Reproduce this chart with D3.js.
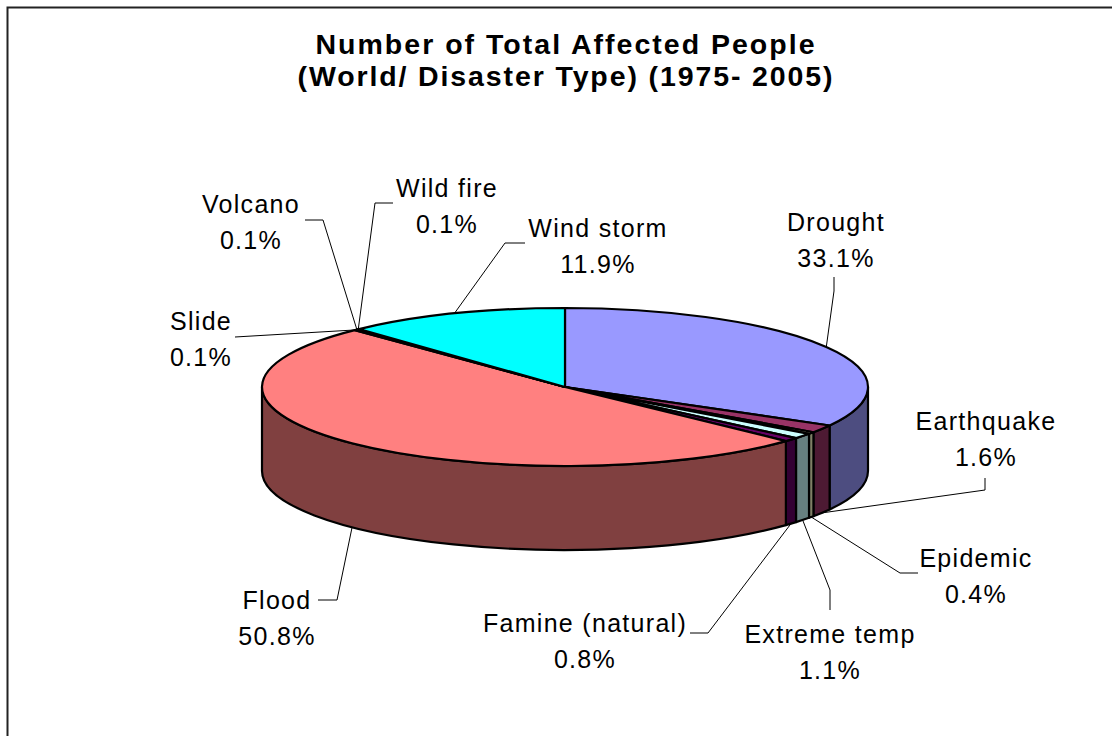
<!DOCTYPE html>
<html>
<head>
<meta charset="utf-8">
<script src="https://cdn.jsdelivr.net/npm/d3@7/dist/d3.min.js"></script>
<style>
  html, body { margin: 0; padding: 0; background: #fff; }
  svg { display: block; }
</style>
</head>
<body>
<svg id="chart" width="1112" height="736"></svg>
<script>
// Share of total affected people by disaster type, 1975-2005 (%)
const categories = ["Drought", "Earthquake", "Epidemic", "Extreme temp", "Famine (natural)",
                    "Flood", "Slide", "Volcano", "Wild fire", "Wind storm"];
const shares = [33.1, 1.6, 0.4, 1.1, 0.8, 50.8, 0.1, 0.1, 0.1, 11.9];
const sliceColors = ["#9999FF", "#993366", "#FFFFCC", "#CCFFFF", "#660066",
                     "#FF8080", "#0066CC", "#CCCCFF", "#000080", "#00FFFF"];
const titleLines = ["Number of Total Affected People", "(World/ Disaster Type) (1975- 2005)"];

// Label placement: anchor of first text line, plus leader-line bend points
const labelLayout = [
  { x: 836, y: 231, leader: [[834, 291], [834, 277]] },
  { x: 986, y: 430, leader: [[985, 490], [985, 478]] },
  { x: 976, y: 567, leader: [[900, 573], [918, 573]] },
  { x: 830, y: 643, leader: [[830, 590], [830, 610]] },
  { x: 585, y: 632, leader: [[708, 633], [690, 633]] },
  { x: 277, y: 609, leader: [[337, 600], [318, 600]] },
  { x: 201, y: 330, leader: [[235, 337]] },
  { x: 251, y: 213, leader: [[323, 220], [305, 220]] },
  { x: 447, y: 197, leader: [[375, 203], [393, 203]] },
  { x: 598, y: 237, leader: [[505, 243], [525, 243]] }
];

const svg = d3.select("#chart");

// Outer frame
svg.append("rect")
  .attr("x", 7.5).attr("y", 7.5)
  .attr("width", 1300).attr("height", 900)
  .attr("fill", "#fff").attr("stroke", "#222").attr("stroke-width", 2);

// Title
svg.append("g").selectAll("text")
  .data(titleLines)
  .join("text")
  .attr("x", 565)
  .attr("y", (d, i) => 54 + i * 32)
  .attr("text-anchor", "middle")
  .attr("font-family", "'Liberation Sans', Arial, sans-serif")
  .attr("font-weight", "bold")
  .attr("font-size", 28.5)
  .attr("textLength", (d, i) => i === 0 ? 499 : 535)
  .attr("lengthAdjust", "spacing")
  .attr("fill", "#000")
  .text(d => d);

// 3D pie geometry
const cx = 565, cy = 387, rx = 303, ry = 79, depth = 84;
const px = a => cx + rx * Math.sin(a);
const py = a => cy - ry * Math.cos(a);

const arcs = d3.pie().sort(null).startAngle(0).endAngle(2 * Math.PI)(shares)
  .map((a, i) => ({ ...a, i }));

const halfTone = c => { const r = d3.rgb(c); return d3.rgb(r.r / 2, r.g / 2, r.b / 2).formatHex(); };

const topPath = a => {
  const large = (a.endAngle - a.startAngle) > Math.PI ? 1 : 0;
  return `M${cx},${cy} L${px(a.startAngle)},${py(a.startAngle)} ` +
         `A${rx},${ry} 0 ${large} 1 ${px(a.endAngle)},${py(a.endAngle)} Z`;
};

const sidePath = (s, e) => {
  const large = (e - s) > Math.PI ? 1 : 0;
  return `M${px(s)},${py(s)} A${rx},${ry} 0 ${large} 1 ${px(e)},${py(e)} ` +
         `L${px(e)},${py(e) + depth} A${rx},${ry} 0 ${large} 0 ${px(s)},${py(s) + depth} Z`;
};

// Outer walls on the front half of the pie
const front = arcs
  .map(a => ({ a, s: Math.max(a.startAngle, Math.PI / 2), e: Math.min(a.endAngle, 3 * Math.PI / 2) }))
  .filter(d => d.e > d.s);

const pie = svg.append("g");
pie.selectAll("path.side")
  .data(front)
  .join("path")
  .attr("class", "side")
  .attr("d", d => sidePath(d.s, d.e))
  .attr("fill", d => halfTone(sliceColors[d.a.i]))
  .attr("stroke", "#000")
  .attr("stroke-width", 2.2)
  .attr("stroke-linejoin", "round");

pie.selectAll("path.top")
  .data(arcs)
  .join("path")
  .attr("class", "top")
  .attr("d", topPath)
  .attr("fill", d => sliceColors[d.i])
  .attr("stroke", "#000")
  .attr("stroke-width", 2.2)
  .attr("stroke-linejoin", "round");

// Leader lines from the slice edge to each label
const edgePoint = a => {
  const m = (a.startAngle + a.endAngle) / 2;
  const onFront = m > Math.PI / 2 && m < 3 * Math.PI / 2;
  return [px(m), py(m) + (onFront ? depth : 0)];
};

svg.append("g").selectAll("path")
  .data(arcs)
  .join("path")
  .attr("d", a => d3.line()([edgePoint(a), ...labelLayout[a.i].leader]))
  .attr("fill", "none")
  .attr("stroke", "#000")
  .attr("stroke-width", 1);

// Category and percentage labels
const labels = svg.append("g")
  .attr("font-family", "'Liberation Sans', Arial, sans-serif")
  .attr("font-size", 25)
  .attr("letter-spacing", 1.3)
  .attr("fill", "#000")
  .attr("text-anchor", "middle");

labels.selectAll("text")
  .data(arcs)
  .join("text")
  .attr("x", a => labelLayout[a.i].x)
  .attr("y", a => labelLayout[a.i].y)
  .each(function (a) {
    const t = d3.select(this);
    t.append("tspan").attr("x", labelLayout[a.i].x).text(categories[a.i]);
    t.append("tspan").attr("x", labelLayout[a.i].x).attr("dy", 36).text(shares[a.i].toFixed(1) + "%");
  });
</script>
</body>
</html>
